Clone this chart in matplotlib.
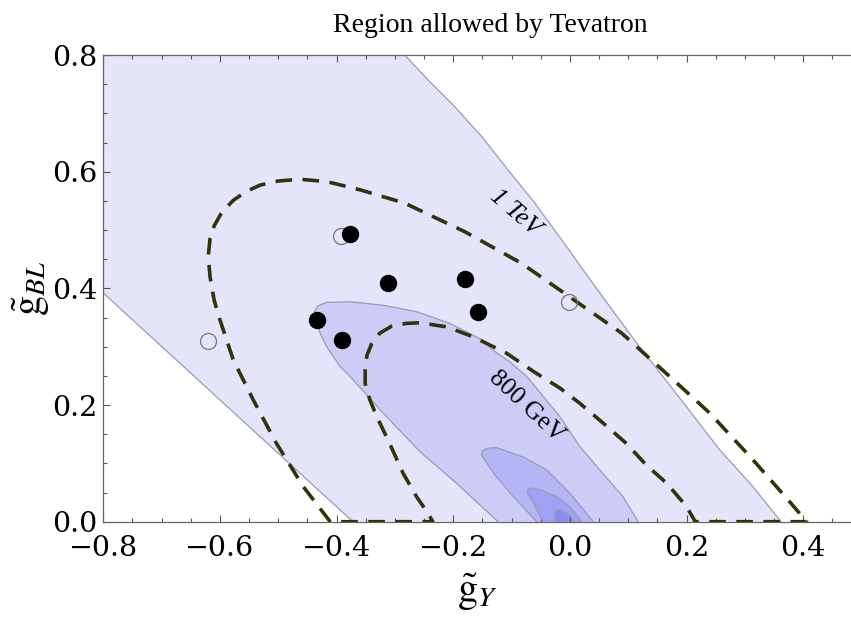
import matplotlib
matplotlib.use("Agg")
import matplotlib.pyplot as plt
from matplotlib.ticker import MultipleLocator

plt.rcParams['font.family'] = ['Liberation Serif', 'DejaVu Serif']
plt.rcParams['mathtext.fontset'] = 'stix'

# allowed region (outer, lightest) - right boundary curve
outer_right_x = [-0.283, -0.243, -0.197, -0.151, -0.106, -0.060, -0.014, 0.031, 0.077,
                 0.111, 0.143, 0.200, 0.257, 0.314, 0.362]
outer_right_y = [0.800, 0.757, 0.711, 0.660, 0.603, 0.546, 0.483, 0.420, 0.357,
                 0.311, 0.270, 0.197, 0.123, 0.060, 0.000]
# allowed region - lower-left straight edge
outer_left_x = [-0.800, -0.372]
outer_left_y = [0.392, 0.000]

# inner contour levels (bottom -> around -> bottom)
lvl2_x = [-0.123, -0.200, -0.257, -0.320, -0.377, -0.394, -0.417, -0.429, -0.436, -0.438,
          -0.432, -0.417, -0.377, -0.320, -0.263, -0.206, -0.149, -0.132, -0.103, -0.074,
          -0.017, 0.017, 0.051, 0.091, 0.117]
lvl2_y = [0.000, 0.071, 0.120, 0.186, 0.249, 0.266, 0.300, 0.325, 0.345, 0.360,
          0.370, 0.376, 0.377, 0.371, 0.360, 0.340, 0.311, 0.294, 0.274, 0.249,
          0.180, 0.129, 0.089, 0.043, 0.000]

lvl3_x = [-0.057, -0.097, -0.126, -0.145, -0.152, -0.150, -0.140, -0.126, -0.080, -0.040,
          0.000, 0.040]
lvl3_y = [0.000, 0.043, 0.077, 0.104, 0.115, 0.122, 0.126, 0.127, 0.111, 0.089,
          0.049, 0.000]

lvl4_x = [-0.046, -0.064, -0.072, -0.072, -0.064, -0.051, -0.023, 0.000, 0.020]
lvl4_y = [0.000, 0.035, 0.048, 0.055, 0.058, 0.055, 0.043, 0.026, 0.000]

lvl5_x = [-0.024, -0.027, -0.025, -0.017, 0.000, 0.007]
lvl5_y = [0.000, 0.009, 0.018, 0.021, 0.011, 0.000]

fill_colors = ['#e4e4fa', '#ccccf6', '#b5b5f5', '#a0a0f4', '#8c8cf2']

# mass contours (dashed)
tev1_x = [-0.411, -0.457, -0.503, -0.543, -0.577, -0.600, -0.610, -0.617, -0.620, -0.617,
          -0.610, -0.597, -0.577, -0.555, -0.531, -0.500, -0.463, -0.417, -0.360, -0.283,
          -0.180, -0.083, 0.003, 0.089, 0.171, 0.240, 0.314, 0.377, 0.406]
tev1_y = [0.000, 0.060, 0.134, 0.209, 0.277, 0.346, 0.380, 0.420, 0.455, 0.485,
          0.507, 0.530, 0.551, 0.566, 0.577, 0.584, 0.587, 0.583, 0.569, 0.546,
          0.497, 0.443, 0.383, 0.323, 0.249, 0.186, 0.106, 0.034, 0.000]
gev800_x = [-0.235, -0.243, -0.263, -0.286, -0.309, -0.331, -0.343, -0.351, -0.351, -0.348,
            -0.340, -0.326, -0.306, -0.280, -0.257, -0.211, -0.166, -0.109, -0.060, -0.017,
            0.017, 0.057, 0.097, 0.131, 0.166, 0.200, 0.215]
gev800_y = [0.000, 0.014, 0.043, 0.083, 0.134, 0.180, 0.209, 0.237, 0.260, 0.285,
            0.305, 0.323, 0.335, 0.340, 0.341, 0.334, 0.317, 0.289, 0.256, 0.229,
            0.203, 0.169, 0.134, 0.097, 0.066, 0.026, 0.000]

# benchmark points
filled_x = [-0.377, -0.312, -0.434, -0.391, -0.180, -0.158]
filled_y = [0.493, 0.409, 0.346, 0.312, 0.416, 0.360]
open_x = [-0.393, -0.621, -0.002]
open_y = [0.490, 0.309, 0.377]

fig = plt.figure(figsize=(8.51, 6.17), dpi=100)
ax = fig.add_axes([103.3 / 851, 1 - 521.7 / 617, 1 - 103.3 / 851, 466.7 / 617])

# outer region polygon (clipped by axes)
ox = [-0.8, -0.8] + outer_right_x + outer_left_x[::-1]
oy = [outer_left_y[0], 0.8] + outer_right_y + outer_left_y[::-1]
ax.fill(ox, oy, color=fill_colors[0], lw=0, zorder=1)
edge = dict(color='#9a9ab4', lw=0.9, zorder=2)
ax.plot(outer_right_x, outer_right_y, **edge)
ax.plot(outer_left_x, outer_left_y, **edge)

levels = [(lvl2_x, lvl2_y), (lvl3_x, lvl3_y), (lvl4_x, lvl4_y), (lvl5_x, lvl5_y)]
for i, (lx, ly) in enumerate(levels):
    ax.fill(lx, ly, color=fill_colors[i + 1], lw=0, zorder=1 + 0.1 * (i + 1))
    ax.plot(lx, ly, **edge)

# dashed closed band: 1 TeV curve, along axis, 800 GeV back, along axis
dx = tev1_x + gev800_x[::-1] + [tev1_x[0]]
dy = tev1_y + gev800_y[::-1] + [tev1_y[0]]
ax.plot(dx, dy, color='#333308', lw=2.6, ls=(0, (4.6, 2.9)), zorder=3)

ax.text(-0.094, 0.530, '1 TeV', rotation=-41, fontsize=18.5, style='italic',
        ha='center', va='center', zorder=4)
ax.text(-0.075, 0.198, '800 GeV', rotation=-43, fontsize=18.5,
        ha='center', va='center', zorder=4)

ax.plot(open_x, open_y, 'o', ms=11.5, mfc='none', mec='#777777', mew=0.9, zorder=5)
ax.plot(filled_x, filled_y, 'o', ms=11.5, color='black', zorder=6)

ax.set_xlim(-0.8, 0.482)
ax.set_ylim(0.0, 0.8)
ax.set_xticks([-0.8, -0.6, -0.4, -0.2, 0.0, 0.2, 0.4])
ax.set_yticks([0.0, 0.2, 0.4, 0.6, 0.8])
ax.xaxis.set_minor_locator(MultipleLocator(0.05))
ax.yaxis.set_minor_locator(MultipleLocator(0.05))
ax.set_xticklabels(['\u22120.8', '\u22120.6', '\u22120.4', '\u22120.2', '0.0', '0.2', '0.4'])
ax.set_yticklabels(['0.0', '0.2', '0.4', '0.6', '0.8'])
ax.tick_params(which='both', direction='in', top=True, right=False,
               color='#555555', width=0.8)
ax.tick_params(which='major', length=5, pad=4)
ax.tick_params(which='minor', length=3)
ax.tick_params(axis='x', which='major', pad=9.5)
for lab in ax.get_xticklabels() + ax.get_yticklabels():
    lab.set_family('DejaVu Serif')
    lab.set_fontsize(20.5)
for s in ['left', 'bottom', 'top']:
    ax.spines[s].set_color('#666666')
    ax.spines[s].set_linewidth(0.9)
ax.spines['right'].set_visible(False)

ax.set_xlabel(r'$\tilde{\mathrm{g}}_{Y}$', fontsize=29, labelpad=7)
ax.set_ylabel(r'$\tilde{\mathrm{g}}_{BL}$', fontsize=29, labelpad=0)

fig.text(490.5 / 851, 1 - 32 / 617, 'Region allowed by Tevatron', fontsize=20,
         ha='center', va='baseline')

fig.savefig('out.png', dpi=100)
